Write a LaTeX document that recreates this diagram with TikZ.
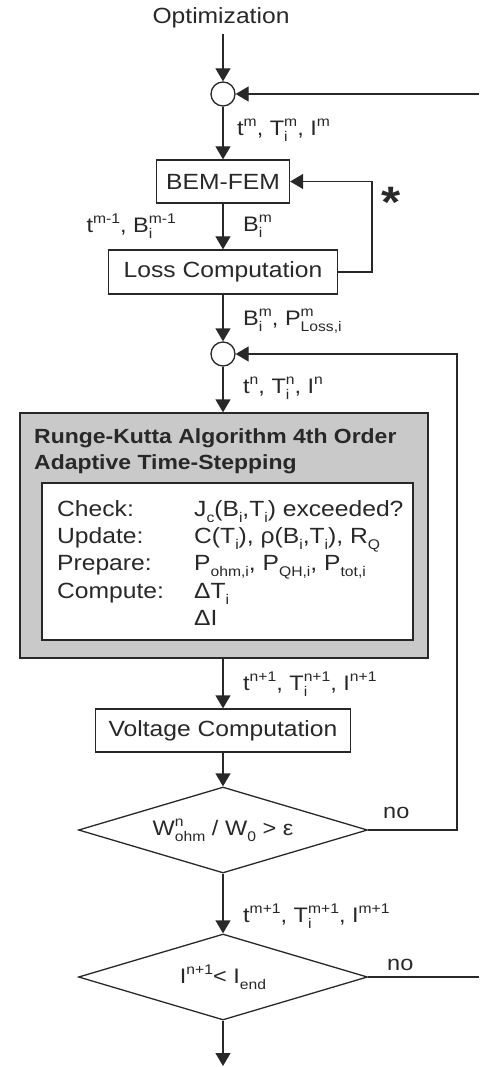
\documentclass[tikz,border=0pt]{standalone}
\usepackage{fontspec}
\setmainfont{Liberation Sans}[FakeStretch=1.12]
\usetikzlibrary{arrows.meta,shapes.geometric}
\definecolor{ink}{RGB}{40,40,40}
\definecolor{boxgray}{RGB}{201,201,201}
\newcommand{\myup}[1]{\raisebox{0.42em}{\fontsize{14}{14}\selectfont #1}}
\newcommand{\mydn}[1]{\raisebox{-0.28em}{\fontsize{14}{14}\selectfont #1}}
\newcommand{\myupdn}[2]{\rlap{\mydn{#2}}\myup{#1}}
\newcommand{\mydnup}[2]{\rlap{\myup{#1}}\mydn{#2}}
\begin{document}
\begin{tikzpicture}[x=1pt,y=-1pt,
  every node/.style={text=ink},
  txt/.style={font=\fontsize{22}{27}\selectfont, inner sep=0pt},
  lbl/.style={font=\fontsize{21}{23}\selectfont, inner sep=0pt, anchor=west},
  procbox/.style={draw=ink, line width=1.3pt, fill=white, font=\fontsize{22}{25}\selectfont, inner sep=0pt},
  junction/.style={draw=ink, line width=1.3pt, circle, minimum size=24pt, inner sep=0pt, fill=white},
  decision/.style={draw=ink, line width=1.3pt, diamond, minimum width=289pt, minimum height=86pt, shape aspect=3.36, inner sep=0pt, font=\fontsize{21}{25}\selectfont},
  arr/.style={draw=ink, line width=1.3pt, -{Triangle[width=15pt,length=13pt]}},
  ln/.style={draw=ink, line width=1.3pt}]
\useasboundingbox (0,0) rectangle (479,1067);

\node[txt] (opt) at (221,18) {Optimization};
\node[junction] (c1) at (223,94) {};
\node[procbox, minimum width=133pt, minimum height=43pt] (bem) at (223,181.5) {BEM-FEM};
\node[procbox, minimum width=229pt, minimum height=44pt] (loss) at (223,272) {Loss Computation};
\node[junction] (c2) at (223,354) {};
\node[draw=ink, line width=1.3pt, fill=boxgray, minimum width=408pt, minimum height=245pt, inner sep=0pt] (rk) at (224,535.5) {};
\node[draw=ink, line width=1.3pt, fill=white, minimum width=371pt, minimum height=157pt, inner sep=0pt] (inner) at (227.5,561.5) {};
\node[txt, anchor=west, align=left, font=\fontsize{20.5}{26}\bfseries] (rktitle) at (34,451) {Runge-Kutta Algorithm 4th Order\\Adaptive Time-Stepping};
\node[txt, anchor=north west, align=left, font=\fontsize{22}{27.3}\selectfont] (inntxt) at (57,500) {%
\makebox[137pt][l]{Check:}J\mydn{c}(B\mydn{i},T\mydn{i}) exceeded?\\
\makebox[137pt][l]{Update:}C(T\mydn{i}), ρ(B\mydn{i},T\mydn{i}), R\mydn{Q}\\
\makebox[137pt][l]{Prepare:}P\mydn{ohm,i}, P\mydn{QH,i}, P\mydn{tot,i}\\
\makebox[137pt][l]{Compute:}ΔT\mydn{i}\\
\makebox[137pt][l]{}ΔI};
\node[procbox, minimum width=255pt, minimum height=43pt] (volt) at (223,730.5) {Voltage Computation};
\node[decision] (d1) at (223,830) {W\mydnup{n}{ohm} / W\mydn{0} > ε};
\node[decision] (d2) at (223,977) {I\myup{n+1}< I\mydn{end}};

\coordinate (in1) at (479,94);
\coordinate (loopr) at (372,272);
\coordinate (fbr) at (457,830);
\coordinate (out2) at (479,977);
\coordinate (endp) at (223,1066);

\draw[arr, shorten <=6pt] (opt.south -| c1) -- (c1.north);
\draw[arr] (in1) -- (c1.east);
\draw[arr] (c1.south) -- (bem.north);
\draw[arr] (bem.south) -- (loss.north);
\draw[arr] (loss.east) -- (loopr) |- (bem.east);
\draw[arr] (loss.south) -- (c2.north);
\draw[arr] (c2.south) -- (c2 |- rk.north);
\draw[arr] (rk.south -| volt) -- (volt.north);
\draw[arr] (volt.south) -- (d1.north);
\draw[arr] (d1.east) -- (fbr) |- (c2.east);
\draw[arr] (d1.south) -- (d2.north);
\draw[ln] (d2.east) -- (out2);
\draw[arr] (d2.south) -- (endp);

\node[font=\fontsize{44}{44}\bfseries, inner sep=0pt] (star) at (391,202) {*};
\node[lbl] (l1) at (237,130) {t\myup{m}, T\myupdn{m}{i}, I\myup{m}};
\node[lbl, anchor=east] (l2) at (176,226) {t\myup{m-1}, B\myupdn{m-1}{i}};
\node[lbl] (l3) at (243,226) {B\myupdn{m}{i}};
\node[lbl] (l4) at (243,321) {B\myupdn{m}{i}, P\mydnup{m}{Loss,i}};
\node[lbl] (l5) at (243,388) {t\myup{n}, T\myupdn{n}{i}, I\myup{n}};
\node[lbl] (l6) at (243,684) {t\myup{n+1}, T\myupdn{n+1}{i}, I\myup{n+1}};
\node[lbl] (l7) at (243,916) {t\myup{m+1}, T\myupdn{m+1}{i}, I\myup{m+1}};
\node[lbl] (no1) at (383,813) {no};
\node[lbl] (no2) at (387,965) {no};
\end{tikzpicture}
\end{document}
